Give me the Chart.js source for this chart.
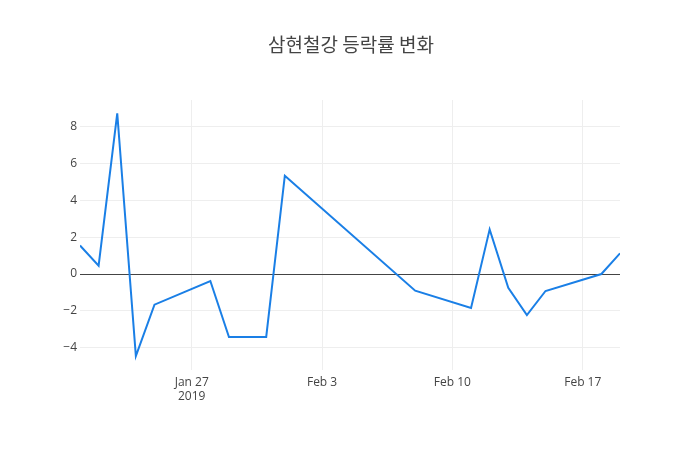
<!DOCTYPE html>
<html>
<head>
<meta charset="utf-8">
<script src="https://cdn.jsdelivr.net/npm/chart.js@4"></script>
<style>
  html, body { margin: 0; padding: 0; background: #fff; }
  #wrap { width: 700px; height: 450px; }
</style>
</head>
<body>
<div id="wrap"><canvas id="rateChart" width="700" height="450"></canvas></div>
<script>
const dates = [
    '2019-01-21', '2019-01-22', '2019-01-23', '2019-01-24', '2019-01-25',
    '2019-01-28', '2019-01-29', '2019-01-31', '2019-02-01', '2019-02-08',
    '2019-02-11', '2019-02-12', '2019-02-13', '2019-02-14', '2019-02-15',
    '2019-02-18', '2019-02-19'
];
const changes = [
    1.55, 0.45, 8.71, -4.44, -1.66,
    -0.38, -3.41, -3.41, 5.33, -0.90,
    -1.84, 2.42, -0.74, -2.22, -0.92,
    0.00, 1.12
];
const yTicks = [-4, -2, 0, 2, 4, 6, 8];
const xTickDates = ['2019-01-27', '2019-02-03', '2019-02-10', '2019-02-17'];
const xTickLabels = [['Jan 27', '2019'], 'Feb 3', 'Feb 10', 'Feb 17'];
const titleText = '삼현철강 등락률 변화';

// days since epoch, so a plain linear axis can stand in for time
const dayNum = s => Date.parse(s + 'T00:00:00Z') / 86400000;

const points = dates.map((d, i) => ({ x: dayNum(d), y: changes[i] }));
const xTickVals = xTickDates.map(dayNum);

const tickFont = { family: '"Open Sans", sans-serif', size: 12 };

// title centred on the whole page, not on the padded layout box
const pageTitle = {
    id: 'pageTitle',
    afterDraw(chart) {
        const ctx = chart.ctx;
        ctx.save();
        ctx.font = '19px "Noto Sans CJK KR", sans-serif';
        ctx.fillStyle = '#444';
        ctx.textAlign = 'center';
        ctx.textBaseline = 'middle';
        ctx.fillText(titleText, chart.width / 2 + 1, 45);
        ctx.restore();
    }
};

const config = {
    type: 'line',
    data: {
        datasets: [{
            label: '등락률',
            data: points,
            borderColor: '#1a7fe6',
            borderWidth: 2,
            pointRadius: 0,
            tension: 0,
            fill: false
        }]
    },
    options: {
        responsive: false,
        animation: false,
        layout: { padding: { left: 40, right: 80, top: 100, bottom: 40 } },
        scales: {
            x: {
                type: 'linear',
                min: dayNum(dates[0]),
                max: dayNum(dates[dates.length - 1]),
                afterBuildTicks: s => { s.ticks = xTickVals.map(v => ({ value: v })); },
                afterFit: s => { s.height = 40; },
                ticks: {
                    font: tickFont,
                    color: '#444',
                    padding: 5,
                    maxRotation: 0,
                    callback: (v) => xTickLabels[xTickVals.indexOf(v)]
                },
                grid: { color: '#eee', drawTicks: false },
                border: { display: false }
            },
            y: {
                min: -5.2,
                max: 9.43,
                afterBuildTicks: s => { s.ticks = yTicks.map(v => ({ value: v })); },
                afterFit: s => { s.width = 40; },
                ticks: {
                    font: tickFont,
                    color: '#444',
                    padding: 3,
                    callback: v => v < 0 ? '\u2212' + Math.abs(v) : String(v)
                },
                grid: {
                    drawTicks: false,
                    color: c => c.tick && c.tick.value === 0 ? '#444' : '#eee',
                    lineWidth: 1
                },
                border: { display: false }
            }
        },
        plugins: {
            legend: { display: false },
            tooltip: { enabled: false },
            title: { display: false }
        }
    },
    plugins: [pageTitle]
};

const rateChart = new Chart(document.getElementById('rateChart'), config);
</script>
</body>
</html>
